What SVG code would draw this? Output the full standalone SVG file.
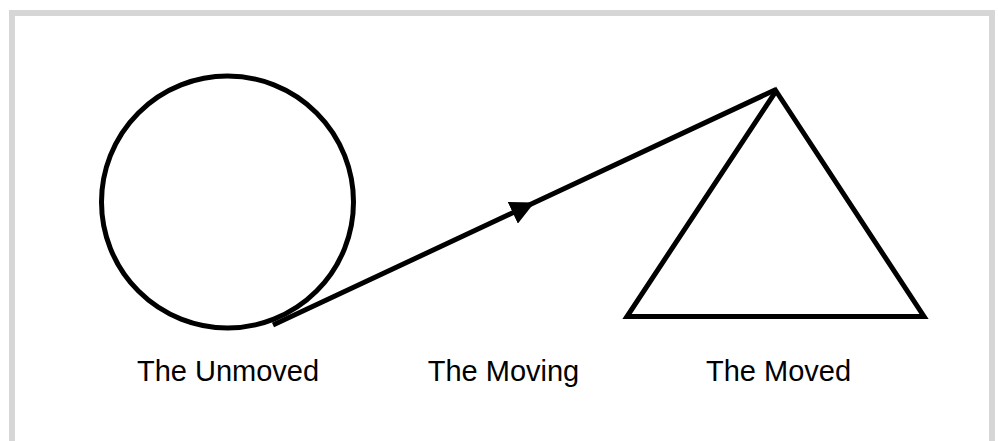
<svg xmlns="http://www.w3.org/2000/svg" width="998" height="441" viewBox="0 0 998 441">
  <style>
    .shape { fill: none; stroke: #000; stroke-width: 5; }
    .label { font-family: "Liberation Sans", Arial, sans-serif; font-size: 29px; fill: #000; text-anchor: middle; }
    .conn { fill: none; stroke: #000; stroke-width: 5; }
  </style>
  <defs>
    <marker id="arrow" markerUnits="userSpaceOnUse" viewBox="0 0 24 24" markerWidth="24" markerHeight="24" refX="24" refY="12" orient="auto">
      <path d="M0,0 L24,12 L0,24 z" fill="#000"/>
    </marker>
  </defs>
  <rect x="0" y="0" width="998" height="441" fill="#fff"/>
  <rect x="12" y="13" width="980" height="500" fill="none" stroke="#d6d6d6" stroke-width="6"/>
  <g id="unmoved">
    <circle class="shape" cx="227.5" cy="202" r="126"/>
    <text class="label" x="228" y="381">The Unmoved</text>
  </g>
  <g id="moved">
    <polygon class="shape" points="776,91 924,316.5 627,316.5" stroke-miterlimit="10"/>
    <text class="label" x="778.5" y="381">The Moved</text>
  </g>
  <g id="moving">
    <text class="label" x="503.5" y="381">The Moving</text>
  </g>
  <g id="connectors">
    <path class="conn" d="M273,325 L534.5,202.6 L776,89.5" marker-mid="url(#arrow)"/>
  </g>
</svg>
